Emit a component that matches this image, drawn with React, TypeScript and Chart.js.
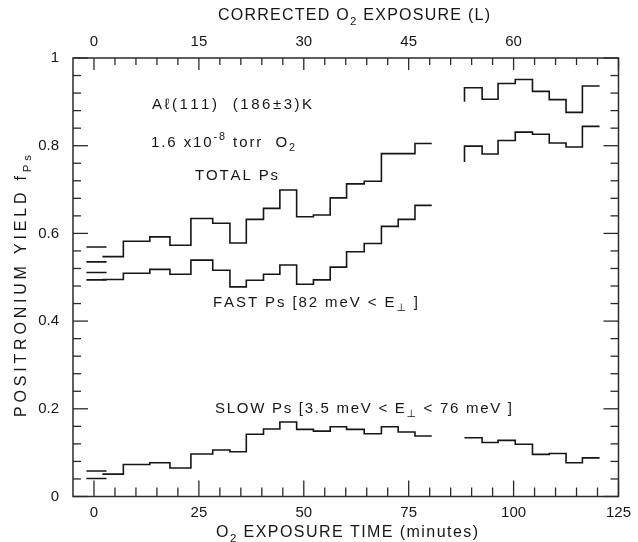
import React, { useEffect, useRef } from 'react';
import { Chart, registerables } from 'chart.js';

Chart.register(...registerables);

const FONT = '"Liberation Sans", Arial, "DejaVu Sans", sans-serif';
const INK = '#161616';

// Bin edges (minutes of O2 exposure)
const seg1Edges = [2, 7, 13.3, 18.1, 23.1, 28.3, 32.4, 36.3, 40.4, 44.3, 48.3, 52.3, 56.3, 60.2, 64.4, 68.5, 72.5, 76.5, 80.5];
const seg2Edges = [88.3, 92.5, 96.3, 100.4, 104.5, 108.5, 112.5, 116.4, 120.5];

// TOTAL Ps
const totalSeg1 = [0.547, 0.582, 0.592, 0.573, 0.634, 0.623, 0.578, 0.632, 0.657, 0.699, 0.638, 0.642, 0.681, 0.713, 0.719, 0.782, 0.782, 0.805];
const totalSeg2Start = 0.9;
const totalSeg2 = [0.932, 0.906, 0.942, 0.951, 0.924, 0.905, 0.876, 0.936];

// FAST Ps
const fastSeg1 = [0.495, 0.509, 0.518, 0.507, 0.539, 0.516, 0.478, 0.493, 0.507, 0.528, 0.484, 0.494, 0.523, 0.558, 0.577, 0.616, 0.632, 0.664];
const fastSeg2Start = 0.763;
const fastSeg2 = [0.799, 0.781, 0.812, 0.831, 0.826, 0.806, 0.797, 0.844];

// SLOW Ps
const slowSeg1 = [0.051, 0.073, 0.077, 0.065, 0.097, 0.106, 0.102, 0.142, 0.154, 0.17, 0.153, 0.149, 0.159, 0.153, 0.143, 0.159, 0.147, 0.138];
const slowSeg2 = [0.134, 0.123, 0.128, 0.119, 0.096, 0.098, 0.077, 0.088];

// Initial (pre-exposure) values
const initialSpan = [-1.8, 3];
const initialValues = [0.569, 0.535, 0.511, 0.494, 0.058, 0.041];

// Axis tick settings
const timeMajor = 25;
const timeMinor = 5;
const exposureMajor = 15;
const exposureMinor = 3;
const exposureLabelMax = 60;
const yieldMajor = 0.2;
const yieldMinor = 0.04;

type P = { x: number; y: number | null };

function steps(edges: number[], vals: number[], start?: number): P[] {
  const pts: P[] = [];
  if (start !== undefined) pts.push({ x: edges[0], y: start });
  vals.forEach((v, i) => pts.push({ x: edges[i], y: v }));
  pts.push({ x: edges[edges.length - 1], y: vals[vals.length - 1] });
  return pts;
}

function series(v1: number[], v2: number[], start2?: number): P[] {
  const gapX = (seg1Edges[seg1Edges.length - 1] + seg2Edges[0]) / 2;
  return [...steps(seg1Edges, v1), { x: gapX, y: null }, ...steps(seg2Edges, v2, start2)];
}

type Seg = { t: string; k?: 'sub' | 'sup' };

function drawRich(
  ctx: CanvasRenderingContext2D,
  segs: Seg[],
  x: number,
  y: number,
  size: number,
  targetW: number,
  align: 'left' | 'center'
) {
  const chars: { c: string; s: number; dy: number; w: number }[] = [];
  for (const seg of segs) {
    const s = seg.k ? size * 0.72 : size;
    const dy = seg.k === 'sub' ? size * 0.34 : seg.k === 'sup' ? -size * 0.42 : 0;
    for (const c of Array.from(seg.t)) {
      ctx.font = `${s}px ${FONT}`;
      chars.push({ c, s, dy, w: ctx.measureText(c).width });
    }
  }
  const natural = chars.reduce((a, ch) => a + ch.w, 0);
  const ls = chars.length > 1 ? (targetW - natural) / (chars.length - 1) : 0;
  let cx = align === 'center' ? x - targetW / 2 : x;
  ctx.textAlign = 'left';
  ctx.textBaseline = 'middle';
  for (const ch of chars) {
    ctx.font = `${ch.s}px ${FONT}`;
    ctx.fillText(ch.c, cx, y + ch.dy);
    cx += ch.w + ls;
  }
}

const framePlugin = {
  id: 'frameAndText',
  afterDraw(chart: any) {
    const { ctx, chartArea: a, scales } = chart;
    ctx.save();
    ctx.strokeStyle = '#2a2a2a';
    ctx.lineWidth = 1.5;
    ctx.strokeRect(a.left, a.top, a.right - a.left, a.bottom - a.top);
    ctx.lineWidth = 1.3;
    const line = (x1: number, y1: number, x2: number, y2: number) => {
      ctx.beginPath();
      ctx.moveTo(x1, y1);
      ctx.lineTo(x2, y2);
      ctx.stroke();
    };
    // y ticks (both sides)
    const nY = Math.round(1 / yieldMinor);
    for (let k = 0; k <= nY; k++) {
      const v = k * yieldMinor;
      const py = scales.y.getPixelForValue(v);
      const major = k % Math.round(yieldMajor / yieldMinor) === 0;
      const len = major ? 15 : 8;
      line(a.left, py, a.left + len, py);
      line(a.right, py, a.right - len, py);
    }
    // bottom ticks
    for (let m = 0; m <= 125; m += timeMinor) {
      const px = scales.x.getPixelForValue(m);
      const len = m % timeMajor === 0 ? 16 : 9;
      line(px, a.bottom, px, a.bottom - len);
    }
    // top ticks
    for (let L = 0; L <= 75; L += exposureMinor) {
      const px = scales.x2.getPixelForValue(L);
      const len = L % exposureMajor === 0 ? 12 : 7;
      line(px, a.top, px, a.top + len);
    }

    ctx.fillStyle = INK;
    // axis titles
    drawRich(ctx, [{ t: 'CORRECTED O' }, { t: '2', k: 'sub' }, { t: ' EXPOSURE (L)' }], 354, 16, 16, 272, 'center');
    drawRich(ctx, [{ t: 'O' }, { t: '2', k: 'sub' }, { t: ' EXPOSURE TIME (minutes)' }], 347, 533, 16, 262, 'center');
    ctx.save();
    ctx.translate(22, 286);
    ctx.rotate(-Math.PI / 2);
    drawRich(ctx, [{ t: 'POSITRONIUM YIELD f' }, { t: 'Ps', k: 'sub' }], 0, 0, 16, 262, 'center');
    ctx.restore();

    // annotations
    drawRich(ctx, [{ t: 'A\u2113(111)  (186\u00b13)K' }], 152, 105, 15, 160, 'left');
    drawRich(ctx, [{ t: '1.6 x10' }, { t: '-8', k: 'sup' }, { t: ' torr  O' }, { t: '2', k: 'sub' }], 151, 143, 15, 144, 'left');
    drawRich(ctx, [{ t: 'TOTAL Ps' }], 195, 176, 15, 83, 'left');
    drawRich(ctx, [{ t: 'FAST Ps [82 meV < E' }, { t: '\u22a5', k: 'sub' }, { t: ' ]' }], 213, 303, 15, 205, 'left');
    drawRich(ctx, [{ t: 'SLOW Ps [3.5 meV < E' }, { t: '\u22a5', k: 'sub' }, { t: ' < 76 meV ]' }], 215, 409, 15, 297, 'left');
    ctx.restore();
  },
};

export default function App() {
  const ref = useRef<HTMLCanvasElement | null>(null);

  useEffect(() => {
    if (!ref.current) return;
    const lineDs = (data: P[]) => ({
      data,
      borderColor: INK,
      borderWidth: 1.6,
      pointRadius: 0,
      stepped: 'before' as const,
      spanGaps: false,
      fill: false,
    });
    const dashDs = initialValues.map((v) => ({
      data: [
        { x: initialSpan[0], y: v },
        { x: initialSpan[1], y: v },
      ],
      borderColor: INK,
      borderWidth: 1.6,
      pointRadius: 0,
      fill: false,
    }));
    const tickFont = { family: FONT, size: 15 };
    const chart = new Chart(ref.current, {
      type: 'line',
      data: {
        datasets: [
          lineDs(series(totalSeg1, totalSeg2, totalSeg2Start)),
          lineDs(series(fastSeg1, fastSeg2, fastSeg2Start)),
          lineDs(series(slowSeg1, slowSeg2)),
          ...dashDs,
        ] as any,
      },
      options: {
        animation: false,
        responsive: false,
        layout: { padding: { left: 0, right: 17, top: 0, bottom: 0 } },
        plugins: { legend: { display: false }, tooltip: { enabled: false } },
        scales: {
          x: {
            type: 'linear',
            position: 'bottom',
            min: -5,
            max: 125,
            afterFit: (s: any) => {
              s.height = 45.5;
            },
            grid: { display: false, drawTicks: false },
            border: { display: false },
            ticks: {
              stepSize: timeMajor,
              includeBounds: false,
              autoSkip: false,
              maxRotation: 0,
              padding: 7,
              color: INK,
              font: tickFont,
              callback: (v: any) => (Number(v) % timeMajor === 0 ? String(v) : ''),
            },
          },
          x2: {
            type: 'linear',
            position: 'top',
            min: -3,
            max: 75,
            afterFit: (s: any) => {
              s.height = 58;
            },
            grid: { display: false, drawTicks: false },
            border: { display: false },
            ticks: {
              stepSize: exposureMajor,
              includeBounds: false,
              autoSkip: false,
              maxRotation: 0,
              padding: 7,
              color: INK,
              font: tickFont,
              callback: (v: any) => {
                const n = Number(v);
                return n % exposureMajor === 0 && n >= 0 && n <= exposureLabelMax ? String(n) : '';
              },
            },
          },
          y: {
            type: 'linear',
            min: 0,
            max: 1,
            afterFit: (s: any) => {
              s.width = 73;
            },
            grid: { display: false, drawTicks: false },
            border: { display: false },
            ticks: {
              stepSize: yieldMajor,
              includeBounds: false,
              autoSkip: false,
              padding: 14,
              color: INK,
              font: tickFont,
              callback: (v: any) => {
                const n = Number(v);
                if (Math.abs(n) < 1e-9) return '0';
                if (Math.abs(n - 1) < 1e-9) return '1';
                return n.toFixed(1);
              },
            },
          },
        },
      } as any,
      plugins: [framePlugin],
    });
    return () => chart.destroy();
  }, []);

  return (
    <div style={{ position: 'fixed', left: 0, top: 0, width: 638, height: 542, background: '#fff' }}>
      <canvas ref={ref} width={638} height={542} style={{ display: 'block' }} />
    </div>
  );
}
